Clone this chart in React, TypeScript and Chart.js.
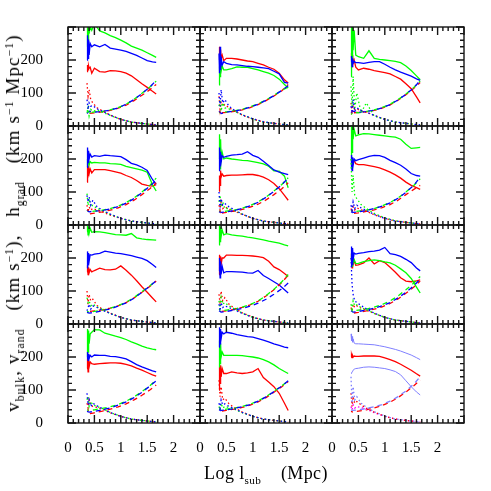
import React, { useEffect, useRef } from 'react';
import Chart from 'chart.js/auto';

// ---- x grids (Log l_sub) ----
const XS = [0.36, 0.37, 0.38, 0.39, 0.40, 0.42, 0.45, 0.50, 0.60, 0.70, 0.80, 0.90, 1.00, 1.10, 1.20, 1.30, 1.40, 1.50, 1.60, 1.67];
const XD = [0.36, 0.40, 0.50, 0.65, 0.80, 0.95, 1.10, 1.25, 1.40, 1.55, 1.67];
const XT = [0.36, 0.38, 0.40, 0.43, 0.47, 0.55, 0.65, 0.80, 1.00, 1.20, 1.40, 1.67];

// ---- axis ticks ----
const X_TICKS = [0, 0.5, 1, 1.5, 2];
const Y_TICKS = [0, 100, 200];

// ---- panel 1 (row 1, col 1) ----
const P1_BLUE = [200, 275, 205, 262, 215, 250, 240, 246, 240, 247, 236, 233, 230, 226, 220, 214, 206, 198, 194, 193];
const P1_GREEN = [240, 310, 260, 320, 280, 300, 290, 310, 288, 282, 274, 268, 260, 252, 242, 236, 230, 222, 214, 208];
const P1_RED = [165, 185, 170, 182, 175, 178, 160, 175, 165, 163, 168, 167, 165, 160, 152, 140, 128, 117, 105, 97];
const P1_DASH_B = [38, 45, 42, 44, 48, 55, 66, 80, 98, 118, 138];
const P1_DASH_G = [48, 40, 43, 44, 49, 56, 66, 81, 99, 118, 136];
const P1_DASH_R = [42, 38, 40, 43, 47, 54, 63, 77, 93, 110, 126];
const P1_DOT_B = [80, 50, 70, 60, 62, 52, 45, 33, 20, 12, 8, 3];
const P1_DOT_G = [40, 55, 30, 50, 45, 48, 42, 32, 20, 12, 8, 3];
const P1_DOT_R = [130, 90, 110, 80, 70, 55, 46, 33, 20, 12, 8, 3];

// ---- panel 2 ----
const P2_BLUE = [220, 160, 240, 170, 210, 185, 195, 190, 186, 185, 183, 181, 180, 178, 176, 174, 166, 158, 132, 130];
const P2_GREEN = [125, 180, 150, 192, 165, 182, 170, 170, 174, 179, 178, 178, 174, 170, 165, 160, 153, 142, 126, 115];
const P2_RED = [200, 240, 190, 232, 205, 215, 198, 205, 205, 203, 200, 197, 195, 190, 185, 178, 172, 160, 140, 130];
const P2_DASH_B = [45, 38, 42, 45, 50, 57, 66, 78, 92, 108, 122];
const P2_DASH_G = [40, 42, 43, 46, 51, 58, 67, 79, 93, 108, 118];
const P2_DASH_R = [42, 40, 41, 44, 49, 56, 65, 77, 91, 107, 126];
const P2_DOT_B = [100, 60, 110, 70, 80, 60, 48, 34, 22, 13, 8, 3];
const P2_DOT_G = [60, 80, 45, 70, 55, 52, 45, 34, 21, 12, 8, 3];
const P2_DOT_R = [90, 50, 75, 60, 65, 55, 46, 33, 21, 12, 8, 3];

// ---- panel 3 ----
const P3_BLUE = [195, 212, 180, 205, 190, 196, 192, 192, 190, 193, 195, 195, 187, 178, 170, 163, 157, 151, 143, 138];
const P3_GREEN = [150, 310, 200, 320, 230, 290, 215, 210, 205, 228, 205, 202, 200, 198, 196, 192, 182, 168, 152, 140];
const P3_RED = [205, 222, 180, 215, 190, 200, 178, 170, 175, 172, 168, 165, 162, 158, 150, 142, 128, 113, 88, 70];
const P3_DASH_B = [40, 45, 42, 44, 48, 55, 65, 79, 96, 116, 138];
const P3_DASH_G = [35, 42, 40, 44, 49, 56, 66, 80, 97, 117, 136];
const P3_DASH_R = [38, 40, 41, 43, 47, 54, 64, 78, 95, 114, 132];
const P3_DOT_B = [60, 40, 80, 45, 55, 48, 42, 32, 20, 12, 8, 3];
const P3_DOT_G = [120, 60, 150, 50, 100, 40, 70, 30, 20, 12, 8, 3];
const P3_DOT_R = [70, 45, 60, 50, 52, 46, 42, 32, 20, 12, 8, 3];

// ---- panel 4 ----
const P4_BLUE = [175, 235, 190, 225, 200, 215, 206, 210, 208, 212, 210, 209, 207, 198, 187, 182, 175, 165, 138, 123];
const P4_GREEN = [180, 200, 185, 195, 182, 192, 188, 190, 188, 188, 186, 185, 184, 178, 174, 170, 166, 160, 122, 103];
const P4_RED = [130, 178, 150, 180, 155, 170, 158, 168, 168, 168, 165, 161, 157, 150, 144, 135, 124, 120, 118, 122];
const P4_DASH_B = [45, 40, 42, 44, 49, 56, 66, 80, 98, 118, 135];
const P4_DASH_G = [45, 40, 42, 45, 50, 57, 68, 82, 100, 120, 142];
const P4_DASH_R = [35, 33, 36, 40, 45, 52, 62, 75, 92, 110, 128];
const P4_DOT_B = [90, 70, 85, 60, 75, 55, 45, 33, 20, 12, 8, 3];
const P4_DOT_G = [95, 60, 80, 55, 60, 50, 44, 32, 20, 12, 8, 3];
const P4_DOT_R = [60, 40, 55, 45, 50, 45, 40, 30, 20, 12, 8, 3];

// ---- panel 5 ----
const P5_BLUE = [165, 235, 180, 222, 190, 210, 205, 208, 212, 213, 215, 222, 211, 205, 193, 180, 167, 160, 156, 153];
const P5_GREEN = [200, 275, 170, 260, 190, 220, 200, 203, 200, 198, 196, 195, 192, 189, 185, 178, 164, 163, 148, 113];
const P5_RED = [103, 150, 120, 165, 145, 155, 148, 150, 151, 151, 152, 153, 153, 150, 145, 137, 126, 110, 90, 75];
const P5_DASH_B = [40, 38, 40, 44, 50, 58, 69, 84, 102, 122, 143];
const P5_DASH_G = [42, 40, 42, 45, 51, 59, 70, 85, 103, 123, 143];
const P5_DASH_R = [38, 36, 38, 42, 47, 54, 63, 76, 92, 110, 128];
const P5_DOT_B = [100, 50, 80, 60, 65, 55, 46, 33, 20, 12, 8, 3];
const P5_DOT_G = [70, 90, 55, 70, 50, 50, 44, 33, 20, 12, 8, 3];
const P5_DOT_R = [60, 45, 70, 50, 55, 48, 42, 32, 20, 12, 8, 3];

// ---- panel 6 ----
const P6_BLUE = [170, 212, 165, 205, 180, 200, 195, 198, 203, 208, 211, 210, 205, 196, 189, 181, 170, 156, 150, 148];
const P6_GREEN = [180, 310, 220, 320, 260, 290, 270, 273, 277, 276, 274, 272, 270, 268, 266, 260, 245, 232, 234, 235];
const P6_RED = [195, 200, 185, 200, 190, 195, 186, 183, 183, 180, 177, 173, 167, 160, 152, 142, 130, 120, 113, 108];
const P6_DASH_B = [40, 38, 40, 44, 50, 57, 67, 81, 99, 120, 145];
const P6_DASH_G = [45, 40, 42, 45, 50, 58, 68, 82, 100, 120, 140];
const P6_DASH_R = [35, 35, 37, 41, 46, 53, 62, 75, 92, 108, 120];
const P6_DOT_B = [60, 45, 70, 50, 60, 52, 44, 32, 20, 12, 8, 3];
const P6_DOT_G = [200, 100, 150, 90, 80, 62, 50, 35, 22, 13, 8, 3];
const P6_DOT_R = [50, 40, 55, 45, 52, 46, 42, 31, 20, 12, 8, 3];

// ---- panel 7 ----
const P7_BLUE = [170, 220, 180, 215, 190, 210, 209, 212, 214, 221, 218, 215, 213, 210, 207, 203, 199, 192, 180, 171];
const P7_GREEN = [280, 300, 270, 295, 275, 290, 278, 280, 279, 277, 274, 271, 270, 269, 274, 261, 258, 256, 255, 254];
const P7_RED = [158, 178, 150, 172, 155, 165, 158, 162, 169, 165, 164, 166, 176, 163, 148, 131, 113, 96, 79, 67];
const P7_DASH_B = [35, 33, 35, 40, 46, 54, 64, 78, 96, 115, 131];
const P7_DASH_G = [38, 36, 38, 42, 48, 56, 66, 80, 98, 116, 132];
const P7_DASH_R = [40, 38, 40, 43, 48, 55, 65, 79, 96, 114, 130];
const P7_DOT_B = [40, 50, 60, 45, 55, 50, 42, 32, 20, 12, 8, 3];
const P7_DOT_G = [80, 65, 70, 55, 60, 52, 44, 32, 20, 12, 8, 3];
const P7_DOT_R = [100, 60, 90, 70, 75, 56, 45, 33, 20, 12, 8, 3];

// ---- panel 8 ----
const P8_BLUE = [160, 200, 140, 190, 150, 175, 155, 159, 159, 158, 157, 155, 154, 162, 147, 138, 128, 118, 104, 94];
const P8_GREEN = [240, 300, 250, 295, 265, 285, 270, 274, 270, 268, 266, 263, 261, 258, 255, 251, 248, 245, 240, 237];
const P8_RED = [150, 210, 160, 205, 180, 200, 200, 209, 209, 208, 208, 207, 206, 204, 201, 190, 173, 165, 153, 144];
const P8_DASH_B = [40, 36, 38, 42, 47, 54, 63, 75, 90, 107, 124];
const P8_DASH_G = [45, 40, 42, 45, 51, 59, 70, 86, 105, 128, 150];
const P8_DASH_R = [42, 38, 40, 44, 50, 58, 69, 85, 104, 126, 148];
const P8_DOT_B = [60, 40, 65, 50, 55, 50, 43, 32, 20, 12, 8, 3];
const P8_DOT_G = [70, 50, 80, 60, 65, 55, 46, 33, 20, 12, 8, 3];
const P8_DOT_R = [90, 60, 100, 70, 80, 60, 48, 34, 21, 12, 8, 3];

// ---- panel 9 ----
const P9_BLUE = [175, 235, 180, 230, 195, 215, 212, 214, 216, 219, 221, 224, 232, 213, 210, 205, 196, 186, 170, 161];
const P9_GREEN = [190, 215, 175, 210, 185, 195, 183, 184, 189, 192, 194, 192, 188, 185, 178, 167, 155, 138, 112, 94];
const P9_RED = [190, 212, 170, 205, 180, 192, 178, 179, 185, 200, 182, 192, 186, 172, 157, 140, 130, 128, 131, 134];
const P9_DASH_B = [40, 36, 38, 42, 48, 55, 65, 79, 96, 116, 136];
const P9_DASH_G = [45, 40, 42, 45, 51, 59, 70, 85, 104, 124, 144];
const P9_DASH_R = [35, 33, 35, 40, 45, 52, 62, 76, 93, 112, 130];
const P9_DOT_B = [200, 120, 90, 70, 65, 56, 46, 33, 20, 12, 8, 3];
const P9_DOT_G = [60, 45, 70, 55, 58, 50, 44, 32, 20, 12, 8, 3];
const P9_DOT_R = [50, 40, 60, 50, 55, 48, 42, 32, 20, 12, 8, 3];

// ---- panel 10 ----
const P10_BLUE = [195, 215, 190, 210, 195, 205, 200, 206, 205, 205, 202, 201, 198, 194, 186, 177, 170, 164, 158, 155];
const P10_GREEN = [200, 285, 215, 280, 240, 270, 275, 283, 282, 272, 268, 263, 259, 253, 246, 240, 233, 228, 224, 222];
const P10_RED = [165, 195, 155, 190, 170, 185, 180, 178, 180, 181, 182, 182, 181, 178, 173, 166, 160, 153, 146, 142];
const P10_DASH_B = [35, 33, 35, 40, 46, 54, 64, 77, 93, 112, 128];
const P10_DASH_G = [40, 38, 40, 44, 49, 56, 66, 79, 95, 113, 130];
const P10_DASH_R = [30, 28, 31, 36, 42, 49, 58, 70, 84, 100, 115];
const P10_DOT_B = [90, 55, 70, 50, 60, 52, 44, 32, 20, 12, 8, 3];
const P10_DOT_G = [70, 80, 50, 65, 55, 50, 44, 32, 20, 12, 8, 3];
const P10_DOT_R = [60, 45, 70, 55, 50, 47, 42, 31, 20, 12, 8, 3];

// ---- panel 11 ----
const P11_BLUE = [230, 290, 240, 285, 255, 275, 270, 275, 272, 268, 265, 262, 260, 256, 251, 246, 240, 235, 230, 228];
const P11_GREEN = [170, 250, 180, 240, 200, 215, 205, 205, 205, 205, 204, 202, 200, 197, 192, 185, 176, 165, 156, 150];
const P11_RED = [100, 170, 120, 175, 140, 165, 150, 150, 155, 152, 150, 152, 155, 165, 138, 124, 110, 90, 60, 38];
const P11_DASH_B = [40, 38, 40, 44, 49, 56, 66, 79, 95, 112, 128];
const P11_DASH_G = [42, 40, 42, 45, 50, 57, 67, 80, 96, 113, 128];
const P11_DASH_R = [38, 36, 38, 42, 47, 54, 64, 77, 93, 110, 126];
const P11_DOT_B = [60, 45, 70, 55, 58, 50, 44, 32, 20, 12, 8, 3];
const P11_DOT_G = [50, 40, 60, 45, 50, 47, 42, 31, 20, 12, 8, 3];
const P11_DOT_R = [130, 80, 110, 70, 75, 58, 46, 33, 20, 12, 8, 3];

// ---- panel 12 ----
const P12_BLUE_HI = [270, 250, 262, 245, 255, 242, 240, 240, 239, 238, 237, 234, 231, 227, 223, 218, 212, 206, 198, 192];
const P12_RED = [200, 205, 198, 204, 200, 203, 202, 202, 203, 203, 203, 202, 197, 192, 186, 178, 169, 160, 149, 142];
const P12_BLUE_LO = [150, 152, 155, 157, 160, 163, 165, 166, 169, 170, 169, 167, 165, 161, 156, 146, 128, 110, 94, 85];
const P12_DASH_B = [40, 38, 40, 44, 49, 56, 66, 80, 97, 118, 140];
const P12_DASH_R = [35, 33, 36, 40, 46, 53, 63, 77, 94, 113, 130];
const P12_DOT_B = [140, 60, 110, 70, 80, 60, 48, 34, 21, 12, 8, 3];
const P12_DOT_R = [90, 50, 80, 60, 65, 55, 45, 33, 20, 12, 8, 3];
const P12_DOT_M = [50, 40, 55, 45, 50, 47, 42, 31, 20, 12, 8, 3];

const BLUE = '#0000ff';
const GREEN = '#00ff00';
const RED = '#ff0000';
const LBLUE = '#7f7fff';
const MAGENTA = '#ff00ff';

type Series = [number[], string, number?];
type Spec = { solid: Series[]; dash: Series[]; dot: Series[] };

const PANELS: Spec[] = [
  { solid: [[P1_BLUE, BLUE], [P1_GREEN, GREEN], [P1_RED, RED]], dash: [[P1_DASH_B, BLUE], [P1_DASH_G, GREEN], [P1_DASH_R, RED]], dot: [[P1_DOT_B, BLUE], [P1_DOT_G, GREEN], [P1_DOT_R, RED]] },
  { solid: [[P2_BLUE, BLUE], [P2_GREEN, GREEN], [P2_RED, RED]], dash: [[P2_DASH_B, BLUE], [P2_DASH_G, GREEN], [P2_DASH_R, RED]], dot: [[P2_DOT_B, BLUE], [P2_DOT_G, GREEN], [P2_DOT_R, RED]] },
  { solid: [[P3_BLUE, BLUE], [P3_GREEN, GREEN], [P3_RED, RED]], dash: [[P3_DASH_B, BLUE], [P3_DASH_G, GREEN], [P3_DASH_R, RED]], dot: [[P3_DOT_B, BLUE], [P3_DOT_G, GREEN], [P3_DOT_R, RED]] },
  { solid: [[P4_BLUE, BLUE], [P4_GREEN, GREEN], [P4_RED, RED]], dash: [[P4_DASH_B, BLUE], [P4_DASH_G, GREEN], [P4_DASH_R, RED]], dot: [[P4_DOT_B, BLUE], [P4_DOT_G, GREEN], [P4_DOT_R, RED]] },
  { solid: [[P5_BLUE, BLUE], [P5_GREEN, GREEN], [P5_RED, RED]], dash: [[P5_DASH_B, BLUE], [P5_DASH_G, GREEN], [P5_DASH_R, RED]], dot: [[P5_DOT_B, BLUE], [P5_DOT_G, GREEN], [P5_DOT_R, RED]] },
  { solid: [[P6_BLUE, BLUE], [P6_GREEN, GREEN], [P6_RED, RED]], dash: [[P6_DASH_B, BLUE], [P6_DASH_G, GREEN], [P6_DASH_R, RED]], dot: [[P6_DOT_B, BLUE], [P6_DOT_G, GREEN], [P6_DOT_R, RED]] },
  { solid: [[P7_BLUE, BLUE], [P7_GREEN, GREEN], [P7_RED, RED]], dash: [[P7_DASH_B, BLUE], [P7_DASH_G, GREEN], [P7_DASH_R, RED]], dot: [[P7_DOT_B, BLUE], [P7_DOT_G, GREEN], [P7_DOT_R, RED]] },
  { solid: [[P8_BLUE, BLUE], [P8_GREEN, GREEN], [P8_RED, RED]], dash: [[P8_DASH_B, BLUE], [P8_DASH_G, GREEN], [P8_DASH_R, RED]], dot: [[P8_DOT_B, BLUE], [P8_DOT_G, GREEN], [P8_DOT_R, RED]] },
  { solid: [[P9_BLUE, BLUE], [P9_GREEN, GREEN], [P9_RED, RED]], dash: [[P9_DASH_B, BLUE], [P9_DASH_G, GREEN], [P9_DASH_R, RED]], dot: [[P9_DOT_B, BLUE], [P9_DOT_G, GREEN], [P9_DOT_R, RED]] },
  { solid: [[P10_BLUE, BLUE], [P10_GREEN, GREEN], [P10_RED, RED]], dash: [[P10_DASH_B, BLUE], [P10_DASH_G, GREEN], [P10_DASH_R, RED]], dot: [[P10_DOT_B, BLUE], [P10_DOT_G, GREEN], [P10_DOT_R, RED]] },
  { solid: [[P11_BLUE, BLUE], [P11_GREEN, GREEN], [P11_RED, RED]], dash: [[P11_DASH_B, BLUE], [P11_DASH_G, GREEN], [P11_DASH_R, RED]], dot: [[P11_DOT_B, BLUE], [P11_DOT_G, GREEN], [P11_DOT_R, RED]] },
  { solid: [[P12_BLUE_HI, LBLUE, 1], [P12_RED, RED, 1.3], [P12_BLUE_LO, LBLUE, 1]], dash: [[P12_DASH_B, LBLUE], [P12_DASH_R, RED]], dot: [[P12_DOT_B, LBLUE], [P12_DOT_R, RED], [P12_DOT_M, MAGENTA]] },
];

// ---- layout (pixels) ----
const COL_LEFT = [68, 200, 332];
const ROW_TOP = [27, 126, 225, 324];
const PW = 132;
const PH = 99;
const LM = 60;
const BM = 34;
const TP = 6;
const RP = 6;
const FONT = 'Liberation Serif';

const framePlugin = {
  id: 'frameTicks',
  afterDatasetsDraw(chart: any) {
    const { ctx, chartArea, scales } = chart;
    const { left, right, top, bottom } = chartArea;
    const x = scales.x;
    const y = scales.y;
    ctx.save();
    ctx.strokeStyle = '#151515';
    ctx.lineWidth = 1.4;
    ctx.strokeRect(left, top, right - left, bottom - top);
    ctx.beginPath();
    for (let i = 0; i <= 25; i++) {
      const px = x.getPixelForValue(i / 10);
      const len = i % 5 === 0 ? 8 : 4;
      ctx.moveTo(px, bottom);
      ctx.lineTo(px, bottom - len);
      ctx.moveTo(px, top);
      ctx.lineTo(px, top + len);
    }
    for (let j = 0; j <= 15; j++) {
      const py = y.getPixelForValue(j * 20);
      const len = j % 5 === 0 ? 8 : 4;
      ctx.moveTo(left, py);
      ctx.lineTo(left + len, py);
      ctx.moveTo(right, py);
      ctx.lineTo(right - len, py);
    }
    ctx.stroke();
    ctx.restore();
  },
};

function mkLine(xs: number[], ys: number[], color: string, dash: number[], width: number, offset = 0) {
  return {
    data: xs.map((x, i) => ({ x, y: ys[i] })),
    borderColor: color,
    backgroundColor: color,
    borderWidth: width,
    borderDash: dash,
    borderDashOffset: offset,
    pointRadius: 0,
    tension: 0,
    fill: false,
  };
}

function zeroPad(s: any) {
  s.paddingTop = 0;
  s.paddingBottom = 0;
  s.paddingLeft = 0;
  s.paddingRight = 0;
}

function Panel({ r, c, spec }: { r: number; c: number; spec: Spec }) {
  const ref = useRef<HTMLCanvasElement | null>(null);
  const W = LM + PW + RP;
  const H = TP + PH + BM;
  useEffect(() => {
    const datasets: any[] = [];
    spec.dot.forEach(([ys, col]) => datasets.push(mkLine(XT, ys, col, [1.5, 2.5], 1.3)));
    spec.dash.forEach(([ys, col], i) => datasets.push(mkLine(XD, ys, col, [5, 4], 1.3, i * 3)));
    spec.solid.forEach(([ys, col, w]) => datasets.push(mkLine(XS, ys, col, [], w ?? 1.3)));
    const chart = new Chart(ref.current as HTMLCanvasElement, {
      type: 'line',
      data: { datasets },
      options: {
        animation: false,
        responsive: false,
        events: [],
        layout: { padding: { top: TP, right: RP, left: 0, bottom: 0 } },
        plugins: { legend: { display: false }, tooltip: { enabled: false } },
        scales: {
          x: {
            type: 'linear',
            min: 0,
            max: 2.5,
            grid: { display: false },
            border: { display: false },
            afterBuildTicks: (s: any) => { s.ticks = X_TICKS.map((v) => ({ value: v })); },
            afterFit: (s: any) => { s.height = BM; zeroPad(s); },
            ticks: {
              display: r === 3,
              autoSkip: false,
              maxRotation: 0,
              padding: 8,
              color: '#000',
              font: { family: FONT, size: 15 },
              callback: (v: any) => String(v),
            },
          },
          y: {
            min: 0,
            max: 300,
            grid: { display: false },
            border: { display: false },
            afterBuildTicks: (s: any) => { s.ticks = Y_TICKS.map((v) => ({ value: v })); },
            afterFit: (s: any) => { s.width = LM; zeroPad(s); },
            ticks: {
              display: c === 0,
              padding: 17,
              color: '#000',
              font: { family: FONT, size: 15 },
              callback: (v: any) => String(v),
            },
          },
        },
      } as any,
      plugins: [framePlugin],
    });
    return () => chart.destroy();
  }, []);
  return (
    <canvas
      ref={ref}
      width={W}
      height={H}
      style={{ position: 'absolute', left: COL_LEFT[c] - LM, top: ROW_TOP[r] - TP, width: W, height: H }}
    />
  );
}

const sub = (t: string) => (
  <span style={{ fontSize: '0.62em', position: 'relative', top: '0.45em' }}>{t}</span>
);
const sup = (t: string) => (
  <span style={{ fontSize: '0.62em', position: 'relative', top: '-0.55em' }}>{t}</span>
);

export default function App() {
  return (
    <div style={{ position: 'absolute', left: 0, top: 0, width: 491, height: 491, background: '#fff', overflow: 'hidden' }}>
      {PANELS.map((spec, k) => (
        <Panel key={k} r={Math.floor(k / 3)} c={k % 3} spec={spec} />
      ))}
      <div
        style={{
          position: 'absolute',
          left: 14,
          top: 223,
          transform: 'translate(-50%, -50%) rotate(-90deg)',
          whiteSpace: 'pre',
          fontFamily: FONT,
          fontSize: 19,
          lineHeight: '19px',
          letterSpacing: '1.1px',
          color: '#000',
        }}
      >
        v{sub('bulk')}, v{sub('rand')}{'   '}(km s{sup('−1')}),{'   '}h{sub('grad')}{'   '}(km s{sup('−1')} Mpc{sup('−1')})
      </div>
      <div
        style={{
          position: 'absolute',
          left: 266,
          top: 464,
          transform: 'translateX(-50%)',
          whiteSpace: 'pre',
          fontFamily: FONT,
          fontSize: 18,
          lineHeight: '18px',
          letterSpacing: '0.4px',
          color: '#000',
        }}
      >
        Log l{sub('sub')}{'    '}(Mpc)
      </div>
    </div>
  );
}
